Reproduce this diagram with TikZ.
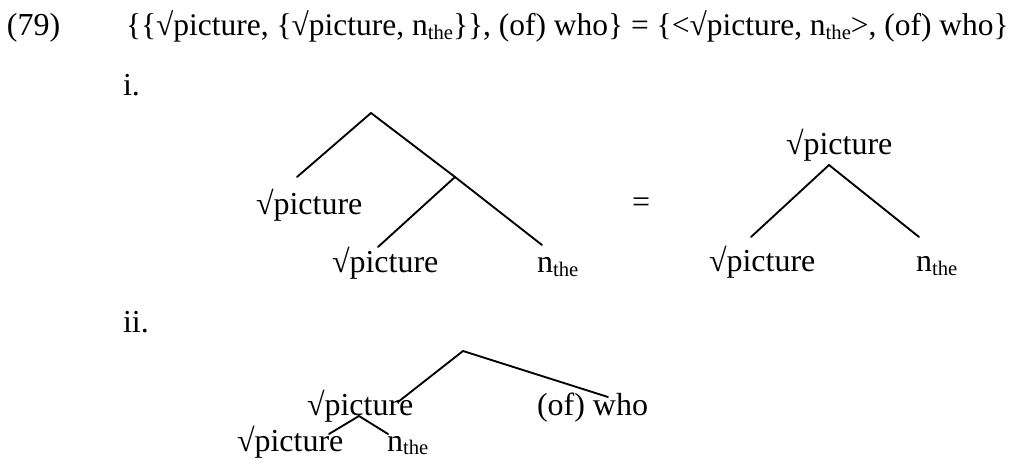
\documentclass[tikz,border=0pt]{standalone}
\usepackage{fontspec}
\setmainfont{Liberation Serif}
\newcommand\subthe{\raisebox{-0.12em}{\fontsize{15.5}{16}\selectfont the}}
\tikzset{
  lbl/.style={anchor=base west, inner sep=0pt, outer sep=0pt, font=\fontsize{24}{28}\selectfont},
  branch/.style={line width=1.4pt, line cap=round}
}
\begin{document}
\begin{tikzpicture}[x=0.75pt, y=-0.75pt]
\useasboundingbox (0,0) rectangle (1020,459);
% header
\node[lbl] (num) at (7,36) {(79)};
\node[lbl, font=\fontsize{23.6}{28}\selectfont] (form) at (126,36) {\{\{√picture, \{√picture, n\subthe\}\}, (of) who\} = \{<√picture, n\subthe>, (of) who\}};
% i.
\node[lbl] (li) at (123,96) {i.};
\coordinate (r1) at (371,113);
\coordinate (a1) at (297,177);
\coordinate (m1) at (455,177);
\coordinate (c1) at (542,245);
\coordinate (b1) at (378,247);
\node[lbl] (A) at (256,215) {√picture};
\node[lbl] (B) at (332,273) {√picture};
\node[lbl] (C) at (537,273) {n\subthe};
\draw[branch] (a1) -- (r1) -- (m1) -- (c1);
\draw[branch] (m1) -- (b1);
\node[lbl] (eq) at (632,213) {=};
\node[lbl] (D) at (786,155) {√picture};
\coordinate (r2) at (829,165);
\coordinate (e2) at (751,237);
\coordinate (f2) at (919,237);
\node[lbl] (E) at (709,272) {√picture};
\node[lbl] (F) at (916,272) {n\subthe};
\draw[branch] (e2) -- (r2) -- (f2);
% ii.
\node[lbl] (lii) at (123,333) {ii.};
\coordinate (r3) at (463,351);
\coordinate (g3) at (398,402);
\coordinate (h3) at (608,397);
\node[lbl] (G) at (307,415) {√picture};
\node[lbl] (H) at (537,415) {(of) who};
\draw[branch] (g3) -- (r3) -- (h3);
\coordinate (r4) at (359,416);
\coordinate (i4) at (329,434);
\coordinate (j4) at (388,434);
\node[lbl] (I) at (237,451) {√picture};
\node[lbl] (J) at (387,451) {n\subthe};
\draw[branch] (i4) -- (r4) -- (j4);
\end{tikzpicture}
\end{document}
